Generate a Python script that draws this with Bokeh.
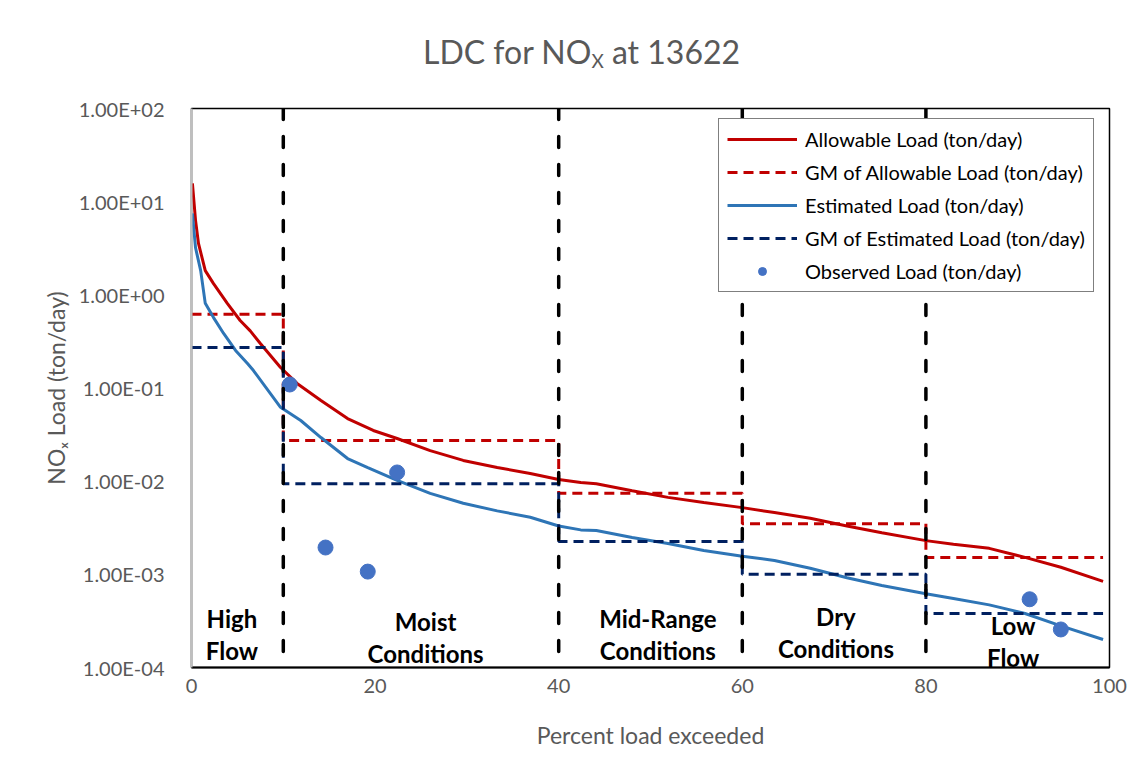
from bokeh.plotting import figure
from bokeh.layouts import column
from bokeh.models import (Range1d, FixedTicker, CustomJSTickFormatter, Span, Label,
                          Legend, LegendItem, Div)
from bokeh.embed import file_html
from bokeh.resources import INLINE

# ---------------- data ----------------
allow_x = [0.1, 0.44, 0.76, 1.5, 2.4, 3.9, 5.3, 6.4, 7.5, 9.7, 11.5, 14.1, 17.0, 19.8,
           22.4, 26.0, 29.6, 33.3, 36.9, 40.0, 42.4, 44.1, 48.0, 51.9, 55.8, 60.0, 63.5,
           67.4, 71.4, 75.2, 80.0, 83.0, 86.9, 90.8, 94.7, 99.3]
allow_y = [15.7, 6.3, 3.56, 1.82, 1.32, 0.81, 0.53, 0.41, 0.30, 0.166, 0.112, 0.0735,
           0.047, 0.035, 0.0287, 0.0213, 0.0167, 0.014, 0.0121, 0.0104, 0.0097, 0.0094,
           0.0079, 0.0067, 0.0059, 0.0052, 0.0046, 0.0040, 0.0033, 0.0028, 0.0023, 0.0021,
           0.0019, 0.00152, 0.00119, 0.00084]

est_x = [0.1, 0.44, 1.0, 1.5, 2.4, 3.5, 4.8, 6.1, 6.75, 9.7, 11.9, 14.1, 17.0, 19.2,
         22.4, 26.0, 29.6, 33.3, 36.9, 40.0, 42.4, 44.1, 48.0, 51.9, 55.8, 60.0, 63.5,
         67.4, 71.4, 75.2, 80.0, 83.0, 86.9, 90.8, 94.7, 99.3]
est_y = [7.5, 3.2, 1.82, 0.81, 0.57, 0.385, 0.253, 0.183, 0.154, 0.062, 0.0448, 0.0294,
         0.0175, 0.014, 0.0102, 0.0074, 0.0058, 0.0048, 0.0041, 0.0033, 0.0030, 0.00296,
         0.00248, 0.00214, 0.0018, 0.00156, 0.00141, 0.00116, 0.00092, 0.00076, 0.00062,
         0.00055, 0.00047, 0.00038, 0.00028, 0.0002]

zone_edges = [0, 10, 40, 60, 80, 99.3]
gm_allow = [0.62, 0.0273, 0.0074, 0.0035, 0.00152]
gm_est = [0.272, 0.0094, 0.00225, 0.00100, 0.00038]

obs_x = [10.7, 14.6, 19.2, 22.4, 91.3, 94.7]
obs_y = [0.109, 0.00194, 0.00107, 0.0124, 0.00054, 0.000256]

zone_lines = [10, 40, 60, 80]
zone_names = ["High\nFlow", "Moist\nConditions", "Mid-Range\nConditions",
              "Dry\nConditions", "Low\nFlow"]

x_ticks = [0, 20, 40, 60, 80, 100]
y_ticks = [1e-4, 1e-3, 1e-2, 1e-1, 1e0, 1e1, 1e2]

series_names = ["Allowable Load (ton/day)", "GM of Allowable Load (ton/day)",
                "Estimated Load (ton/day)", "GM of Estimated Load (ton/day)",
                "Observed Load (ton/day)"]


def steps(edges, vals):
    xs, ys = [], []
    for i, v in enumerate(vals):
        xs += [edges[i], edges[i + 1]]
        ys += [v, v]
    return xs, ys


FONT = "Lato"
GREY = "#595959"

title = Div(text='LDC for NO<sub style="font-size:19px; line-height:0; '
                 'vertical-align:-4px">X</sub> at 13622',
            width=314, height=40, margin=(36, 0, 0, 423),
            styles={"font-family": FONT, "font-size": "32px", "color": GREY,
                    "text-align": "center", "white-space": "nowrap",
                    "line-height": "32px"})

p = figure(width=1138, height=696, output_backend="svg", toolbar_location=None,
           x_range=Range1d(0, 100), y_range=Range1d(1e-4, 1e2), y_axis_type="log",
           min_border_left=191, min_border_right=29, min_border_top=32,
           min_border_bottom=105)
p.xgrid.visible = False
p.ygrid.visible = False
p.outline_line_color = "black"
p.outline_line_width = 1.5
p.background_fill_color = "white"
p.border_fill_color = "white"

# axes
p.xaxis.ticker = FixedTicker(ticks=x_ticks)
p.yaxis.ticker = FixedTicker(ticks=y_ticks, minor_ticks=[])
p.yaxis.formatter = CustomJSTickFormatter(code="""
const s = tick.toExponential(2).toUpperCase().split("E");
let e = parseInt(s[1]);
const sign = e < 0 ? "-" : "+";
e = Math.abs(e);
return s[0] + "E" + sign + (e < 10 ? "0" + e : "" + e);
""")
for ax in (p.xaxis[0], p.yaxis[0]):
    ax.major_tick_line_color = None
    ax.minor_tick_line_color = None
    ax.major_label_text_font = FONT
    ax.major_label_text_font_size = "20px"
    ax.major_label_text_color = GREY
    ax.axis_label_text_font = FONT
    ax.axis_label_text_font_size = "23px"
    ax.axis_label_text_font_style = "normal"
    ax.axis_label_text_color = GREY
p.xaxis.axis_line_color = "black"
p.xaxis.axis_line_width = 2
p.yaxis.axis_line_color = "#BFBFBF"
p.yaxis.axis_line_width = 2
p.xaxis.major_label_standoff = 5
p.yaxis.major_label_standoff = 21
p.xaxis.axis_label = "Percent load exceeded"
p.yaxis.axis_label = "NO\u2093 Load (ton/day)"
p.xaxis.axis_label_standoff = 25
p.yaxis.axis_label_standoff = 6

# series
r_allow = p.line(allow_x, allow_y, line_color="#C00000", line_width=3)
gx, gy = steps(zone_edges, gm_allow)
r_gma = p.line(gx, gy, line_color="#C00000", line_width=3, line_dash="10 6")
r_est = p.line(est_x, est_y, line_color="#2E75B6", line_width=3)
gx2, gy2 = steps(zone_edges, gm_est)
r_gme = p.line(gx2, gy2, line_color="#002060", line_width=3, line_dash="10 6")
r_obs = p.scatter(obs_x, obs_y, size=15, marker="circle", fill_color="#4472C4",
                  line_color="#4472C4")

for v in zone_lines:
    p.add_layout(Span(location=v, dimension="height", line_color="black",
                      line_width=3.5, line_dash="11 17", line_cap="round"))

# zone labels
zone_pos = [(4.4, 2.26e-4), (25.5, 2.1e-4), (50.8, 2.26e-4), (70.2, 2.38e-4), (89.5, 1.9e-4)]
for name, (zx, zy) in zip(zone_names, zone_pos):
    p.add_layout(Label(x=zx, y=zy, text=name, text_align="center", text_baseline="middle",
                       text_font=FONT, text_font_style="bold", text_font_size="24px",
                       text_color="black", text_line_height=1.12))

legend = Legend(items=[LegendItem(label=n, renderers=[r]) for n, r in
                       zip(series_names, [r_allow, r_gma, r_est, r_gme, r_obs])],
                location=(527, 375), border_line_color="black", border_line_width=1.5,
                background_fill_color="white", background_fill_alpha=1.0,
                padding=8, spacing=9, glyph_width=70, glyph_height=20, label_height=20,
                label_standoff=8, margin=0, label_text_font=FONT,
                label_text_font_size="20px", label_text_color="black")
p.add_layout(legend)

layout = column(title, p, spacing=0)
open("out.html", "w").write(file_html(layout, INLINE))
